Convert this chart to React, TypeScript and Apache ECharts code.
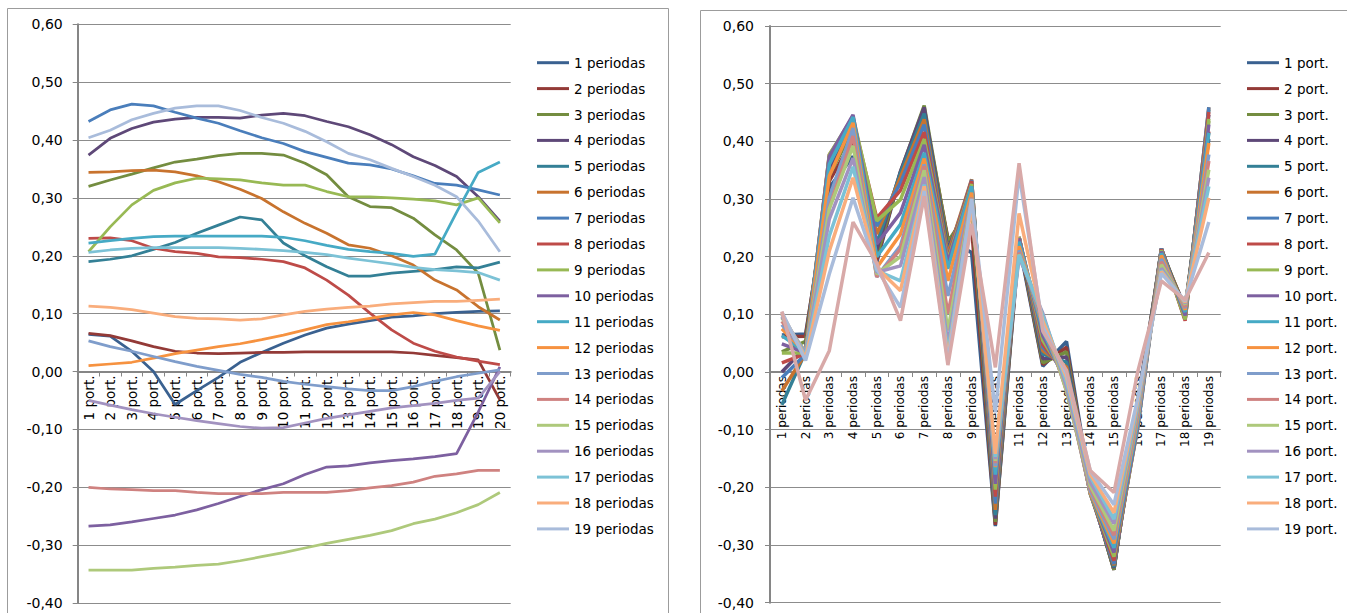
import React, { useEffect, useRef } from "react";
import * as echarts from "echarts";

const portLabels = [
  "1 port.", "2 port.", "3 port.", "4 port.", "5 port.", "6 port.", "7 port.", "8 port.", "9 port.", "10 port.",
  "11 port.", "12 port.", "13 port.", "14 port.", "15 port.", "16 port.", "17 port.", "18 port.", "19 port.", "20 port.",
];
const periodLabels = [
  "1 periodas", "2 periodas", "3 periodas", "4 periodas", "5 periodas", "6 periodas", "7 periodas", "8 periodas",
  "9 periodas", "10 periodas", "11 periodas", "12 periodas", "13 periodas", "14 periodas", "15 periodas",
  "16 periodas", "17 periodas", "18 periodas", "19 periodas",
];
const yTicks = [-0.4, -0.3, -0.2, -0.1, 0, 0.1, 0.2, 0.3, 0.4, 0.5, 0.6];

// values per period (row) across the 20 portfolios
const per01 = [0.064, 0.061, 0.035, 0.0, -0.057, -0.033, -0.01, 0.016, 0.033, 0.049, 0.063, 0.075, 0.082, 0.088, 0.094, 0.096, 0.1, 0.102, 0.104, 0.105];
const per02 = [0.066, 0.062, 0.053, 0.043, 0.035, 0.032, 0.031, 0.032, 0.033, 0.033, 0.034, 0.034, 0.034, 0.034, 0.034, 0.032, 0.028, 0.024, 0.02, -0.049];
const per03 = [0.32, 0.331, 0.341, 0.352, 0.362, 0.367, 0.373, 0.377, 0.377, 0.374, 0.36, 0.34, 0.302, 0.285, 0.283, 0.265, 0.236, 0.21, 0.17, 0.037];
const per04 = [0.374, 0.403, 0.42, 0.431, 0.436, 0.439, 0.439, 0.438, 0.443, 0.446, 0.442, 0.432, 0.423, 0.409, 0.392, 0.371, 0.356, 0.337, 0.302, 0.26];
const per05 = [0.19, 0.194, 0.2, 0.211, 0.223, 0.239, 0.253, 0.267, 0.262, 0.222, 0.2, 0.181, 0.165, 0.165, 0.17, 0.173, 0.176, 0.181, 0.179, 0.189];
const per06 = [0.344, 0.345, 0.347, 0.348, 0.345, 0.338, 0.328, 0.315, 0.299, 0.276, 0.256, 0.239, 0.219, 0.213, 0.2, 0.184, 0.158, 0.141, 0.112, 0.089];
const per07 = [0.432, 0.452, 0.462, 0.459, 0.448, 0.438, 0.429, 0.416, 0.404, 0.394, 0.38, 0.37, 0.36, 0.357, 0.35, 0.338, 0.325, 0.322, 0.314, 0.305];
const per08 = [0.23, 0.231, 0.226, 0.213, 0.207, 0.204, 0.198, 0.197, 0.194, 0.19, 0.179, 0.158, 0.132, 0.101, 0.072, 0.049, 0.035, 0.025, 0.018, 0.012];
const per09 = [0.207, 0.25, 0.288, 0.313, 0.326, 0.334, 0.333, 0.331, 0.326, 0.322, 0.322, 0.311, 0.302, 0.302, 0.3, 0.298, 0.295, 0.288, 0.3, 0.257];
const per10 = [-0.267, -0.265, -0.26, -0.254, -0.248, -0.239, -0.228, -0.216, -0.204, -0.194, -0.178, -0.165, -0.163, -0.158, -0.154, -0.151, -0.147, -0.142, -0.07, 0.008];
const per11 = [0.222, 0.226, 0.23, 0.233, 0.234, 0.234, 0.234, 0.234, 0.234, 0.232, 0.226, 0.218, 0.211, 0.207, 0.204, 0.199, 0.203, 0.275, 0.344, 0.362];
const per12 = [0.01, 0.013, 0.016, 0.023, 0.031, 0.037, 0.043, 0.048, 0.055, 0.063, 0.072, 0.081, 0.086, 0.092, 0.098, 0.102, 0.098, 0.088, 0.079, 0.071];
const per13 = [0.053, 0.043, 0.035, 0.026, 0.017, 0.009, 0.002, -0.005, -0.01, -0.017, -0.022, -0.026, -0.03, -0.033, -0.033, -0.026, -0.017, -0.009, -0.003, 0.003];
const per14 = [-0.2, -0.203, -0.204, -0.206, -0.206, -0.209, -0.211, -0.211, -0.211, -0.209, -0.209, -0.209, -0.206, -0.201, -0.197, -0.191, -0.181, -0.177, -0.171, -0.171];
const per15 = [-0.343, -0.343, -0.343, -0.34, -0.338, -0.335, -0.333, -0.327, -0.32, -0.313, -0.305, -0.297, -0.29, -0.283, -0.275, -0.263, -0.255, -0.244, -0.23, -0.209];
const per16 = [-0.05, -0.058, -0.066, -0.073, -0.079, -0.085, -0.09, -0.095, -0.098, -0.097, -0.089, -0.081, -0.075, -0.069, -0.063, -0.059, -0.055, -0.05, -0.046, 0.0];
const per17 = [0.206, 0.21, 0.213, 0.214, 0.214, 0.214, 0.214, 0.213, 0.211, 0.209, 0.206, 0.202, 0.196, 0.191, 0.186, 0.18, 0.176, 0.174, 0.171, 0.158];
const per18 = [0.113, 0.111, 0.107, 0.101, 0.095, 0.092, 0.091, 0.089, 0.091, 0.098, 0.104, 0.108, 0.111, 0.113, 0.117, 0.119, 0.121, 0.121, 0.123, 0.125];
const per19 = [0.404, 0.417, 0.435, 0.446, 0.455, 0.459, 0.459, 0.451, 0.439, 0.429, 0.415, 0.397, 0.377, 0.366, 0.351, 0.337, 0.322, 0.302, 0.26, 0.207];

const rows = [per01, per02, per03, per04, per05, per06, per07, per08, per09, per10, per11, per12, per13, per14, per15, per16, per17, per18, per19];

const palette = [
  "#3A6190", "#933A37", "#748D40", "#5E4878", "#348096", "#C8732E",
  "#4A7EBB", "#BE4B48", "#98B954", "#7D60A0", "#46AAC5", "#F69240",
  "#7F9DCB", "#CF8280", "#AEC97B", "#A292C0", "#7CC2D6", "#F9AD7C",
  "#A9BCDB", "#D8A9A8",
];

const GRID_L = { left: 77.7, top: 24.3, width: 433, height: 578.7 };
const GRID_R = { left: 770, top: 26, width: 450.7, height: 576.7 };

export default function App() {
  const ref = useRef<HTMLDivElement>(null);
  useEffect(() => {
    if (!ref.current) return;
    const chart = echarts.init(ref.current, null, { renderer: "svg" });
    const font = "DejaVu Sans";
    const fmt = (v: number) => v.toFixed(2).replace(".", ",");
    const yMin = yTicks[0];
    const yMax = yTicks[yTicks.length - 1];
    const yAxis = (gridIndex: number, margin: number) => ({
      type: "value",
      gridIndex,
      min: yMin,
      max: yMax,
      interval: 0.1,
      axisLine: { show: true, lineStyle: { color: "#868686", width: 2 } },
      axisTick: { show: true, length: 5, lineStyle: { color: "#868686", width: 1 } },
      axisLabel: { formatter: fmt, color: "#000", fontFamily: font, fontSize: 14, margin },
      splitLine: { show: true, lineStyle: { color: "#8c8c8c", width: 1 } },
    });
    // the category axis sits on the zero line: offset it up from the grid bottom
    const xAxis = (gridIndex: number, data: string[], fontSize: number, gridHeight: number) => ({
      type: "category",
      gridIndex,
      data,
      position: "bottom",
      offset: -((0 - yMin) / (yMax - yMin)) * gridHeight,
      boundaryGap: true,
      axisLine: { show: true, onZero: false, lineStyle: { color: "#868686", width: 2 } },
      axisTick: { show: true, length: 5, inside: false, lineStyle: { color: "#868686", width: 1 } },
      axisLabel: { rotate: 90, interval: 0, margin: 4, color: "#000", fontFamily: font, fontSize },
      splitLine: { show: false },
    });
    const legend = (left: number, data: string[]) => ({
      orient: "vertical",
      left,
      top: 50.7,
      icon: "rect",
      itemWidth: 32,
      itemHeight: 3,
      itemGap: 11.9,
      data,
      selectedMode: false,
      textStyle: { color: "#000", fontFamily: font, fontSize: 13.5, lineHeight: 14 },
    });
    const leftSeries = rows.map((r, i) => ({
      name: periodLabels[i],
      type: "line",
      xAxisIndex: 0,
      yAxisIndex: 0,
      data: r,
      symbol: "none",
      lineStyle: { width: 2.75, color: palette[i] },
      itemStyle: { color: palette[i] },
    }));
    const rightSeries = portLabels.map((p, k) => ({
      name: p,
      type: "line",
      xAxisIndex: 1,
      yAxisIndex: 1,
      data: rows.map((r) => r[k]),
      symbol: "none",
      lineStyle: { width: 3.5, color: palette[k] },
      itemStyle: { color: palette[k] },
    }));
    chart.setOption({
      animation: false,
      backgroundColor: "#fff",
      graphic: [
        { type: "rect", shape: { x: 7.5, y: 8.5, width: 661, height: 700 }, style: { fill: "none", stroke: "#9c9c9c", lineWidth: 1 } },
        { type: "rect", shape: { x: 700.5, y: 10.5, width: 700, height: 700 }, style: { fill: "none", stroke: "#9c9c9c", lineWidth: 1 } },
      ],
      grid: [
        { ...GRID_L, outerBoundsMode: "none" },
        { ...GRID_R, outerBoundsMode: "none" },
      ],
      xAxis: [xAxis(0, portLabels, 13.5, GRID_L.height), xAxis(1, periodLabels, 12, GRID_R.height)],
      yAxis: [yAxis(0, 15), yAxis(1, 16)],
      legend: [legend(532, periodLabels), legend(1242, portLabels.slice(0, 19))],
      series: [...leftSeries, ...rightSeries],
    });
    return () => chart.dispose();
  }, []);
  return <div ref={ref} style={{ position: "fixed", left: 0, top: 0, width: 1347, height: 613 }} />;
}
